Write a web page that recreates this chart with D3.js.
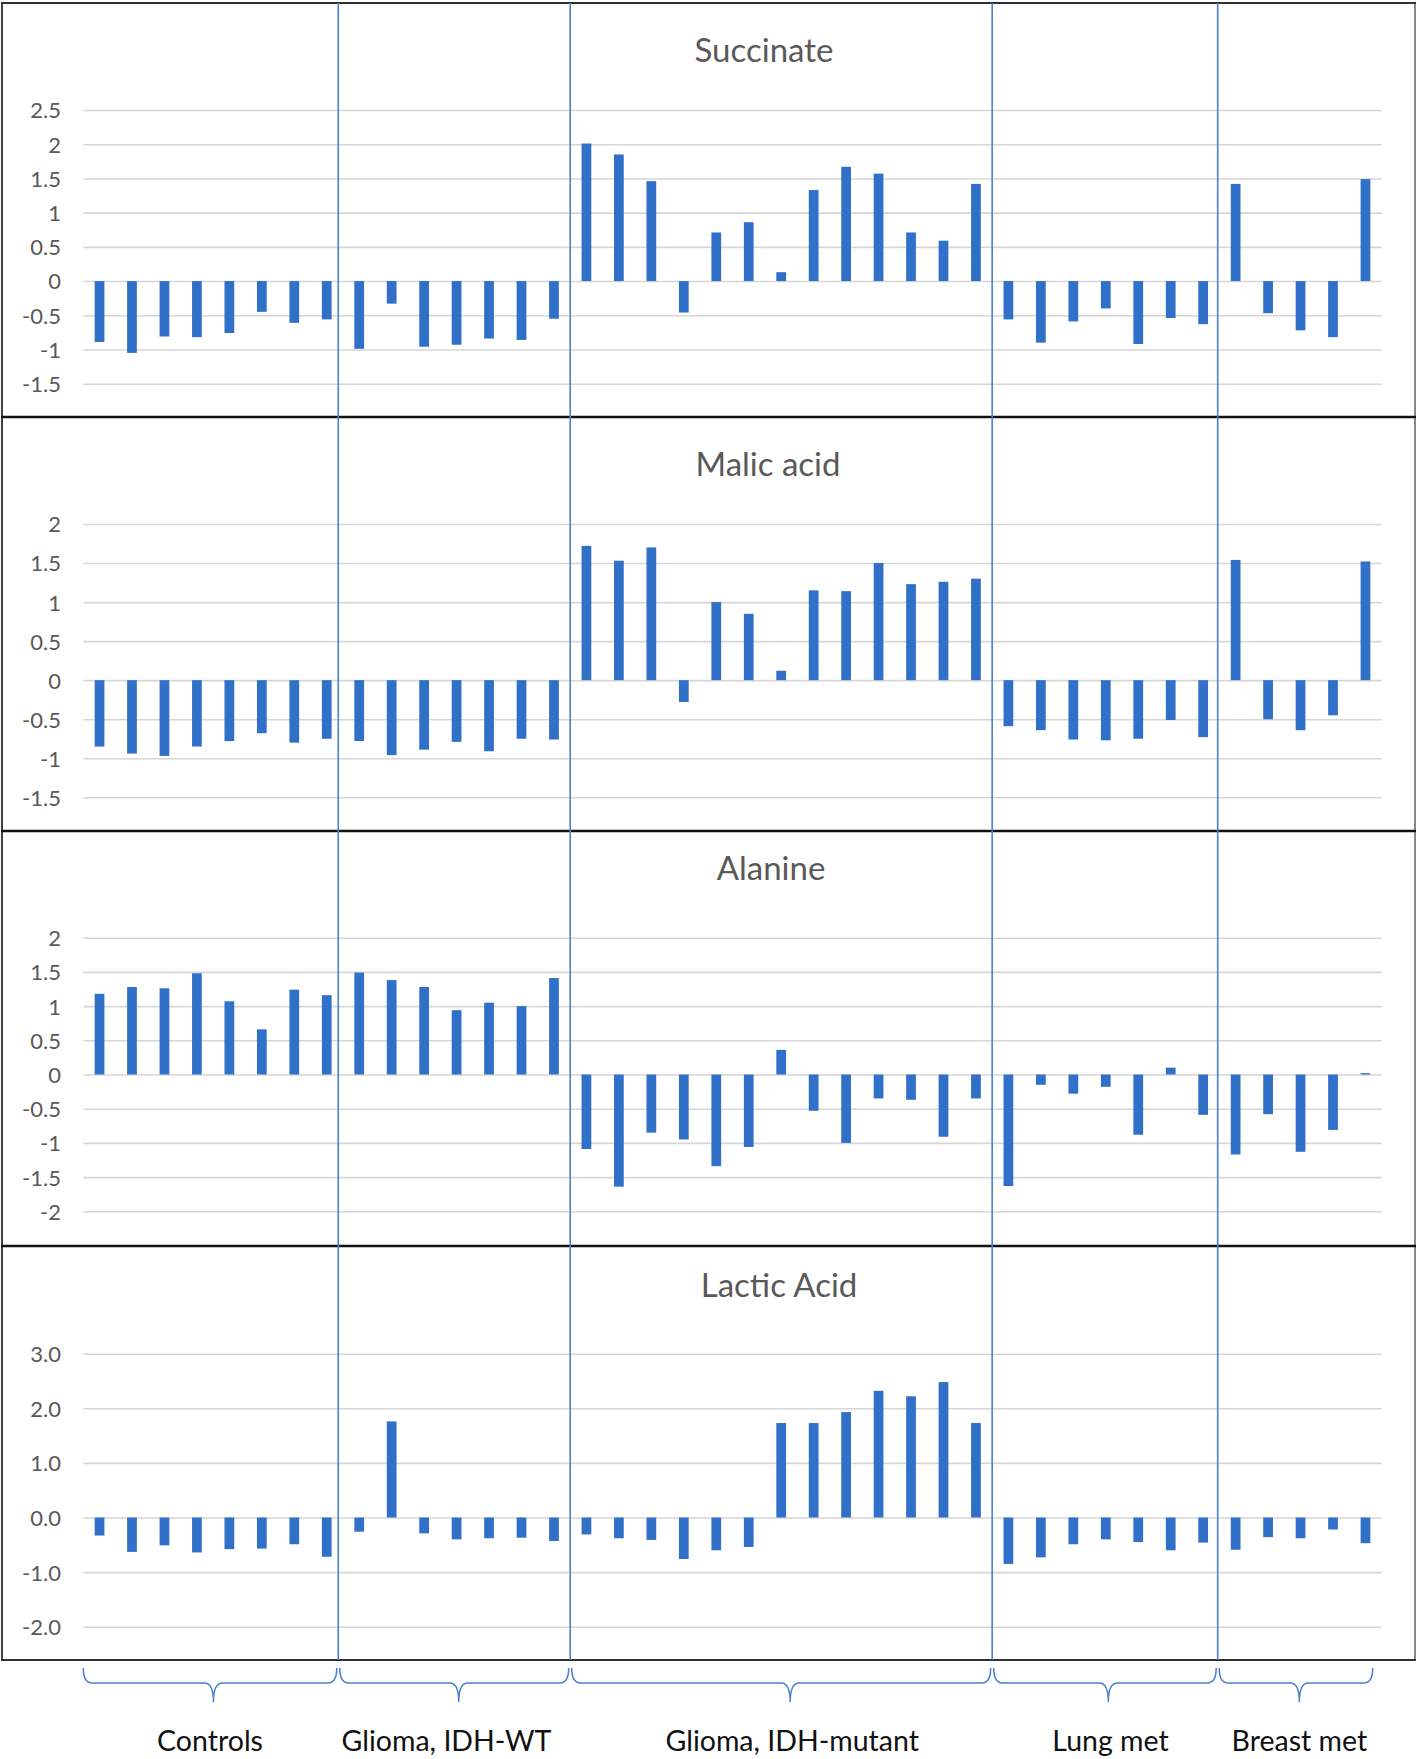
<!DOCTYPE html>
<html><head><meta charset="utf-8">
<script src="https://cdn.jsdelivr.net/npm/d3@7"></script>
<style>
html,body{margin:0;padding:0;background:#fff;}
svg{display:block;}
</style></head>
<body>
<svg id="chart" width="1418" height="1759"></svg>
<script>
// ---------- DATA ----------
const groups = ["Controls", "Glioma, IDH-WT", "Glioma, IDH-mutant", "Lung met", "Breast met"];
const groupSizes = [8, 7, 13, 7, 5];
const samples = d3.range(1, 41).map(i => "S" + i);

const metabolites = ["Succinate", "Malic acid", "Alanine", "Lactic Acid"];

const succinate = [-0.89, -1.05, -0.81, -0.82, -0.76, -0.45, -0.61, -0.56,
  -0.99, -0.33, -0.96, -0.93, -0.84, -0.86, -0.55,
  2.01, 1.85, 1.46, -0.46, 0.71, 0.86, 0.13, 1.33, 1.67, 1.57, 0.71, 0.59, 1.42,
  -0.56, -0.90, -0.59, -0.40, -0.92, -0.54, -0.63,
  1.42, -0.47, -0.72, -0.82, 1.49];
const malicAcid = [-0.85, -0.94, -0.97, -0.85, -0.78, -0.68, -0.80, -0.75,
  -0.78, -0.96, -0.89, -0.79, -0.91, -0.75, -0.76,
  1.72, 1.53, 1.70, -0.28, 1.00, 0.85, 0.12, 1.15, 1.14, 1.50, 1.23, 1.26, 1.30,
  -0.59, -0.64, -0.76, -0.77, -0.75, -0.51, -0.73,
  1.54, -0.50, -0.64, -0.45, 1.52];
const alanine = [1.18, 1.28, 1.26, 1.48, 1.07, 0.66, 1.24, 1.16,
  1.49, 1.38, 1.28, 0.94, 1.05, 1.00, 1.41,
  -1.09, -1.64, -0.85, -0.95, -1.34, -1.06, 0.36, -0.53, -1.00, -0.35, -0.37, -0.91, -0.35,
  -1.63, -0.15, -0.28, -0.18, -0.88, 0.10, -0.59,
  -1.17, -0.58, -1.13, -0.81, 0.02];
const lacticAcid = [-0.33, -0.63, -0.51, -0.64, -0.58, -0.57, -0.49, -0.72,
  -0.26, 1.76, -0.29, -0.40, -0.38, -0.37, -0.43,
  -0.31, -0.38, -0.41, -0.76, -0.60, -0.54, 1.73, 1.73, 1.93, 2.32, 2.22, 2.48, 1.73,
  -0.85, -0.73, -0.49, -0.40, -0.45, -0.60, -0.46,
  -0.59, -0.36, -0.38, -0.22, -0.47];

const succinateTicks = [-1.5, -1, -0.5, 0, 0.5, 1, 1.5, 2, 2.5];
const malicTicks = [-1.5, -1, -0.5, 0, 0.5, 1, 1.5, 2];
const alanineTicks = [-2, -1.5, -1, -0.5, 0, 0.5, 1, 1.5, 2];
const lacticTicks = [-2, -1, 0, 1, 2, 3];

// ---------- LAYOUT ----------
const svg = d3.select("#chart");
const BAR = "#3070c8";
const SEP = "#4a7fd2";
const GRID = "#d6d6d6";
const TXT = "#595959";
const FONT = "Lato, 'Open Sans', sans-serif";

const x = d3.scaleBand().domain(samples).range([83.3, 1381.7])
  .paddingInner(0.7).paddingOuter(0.35);

const panels = [
  {name: metabolites[0], values: succinate, ticks: succinateTicks, fmt: d3.format(""), top: 3, bottom: 417, yr: [383.7, 110], titleX: 764, titleY: 62},
  {name: metabolites[1], values: malicAcid, ticks: malicTicks, fmt: d3.format(""), top: 417, bottom: 831, yr: [797.3, 524], titleX: 768, titleY: 476},
  {name: metabolites[2], values: alanine, ticks: alanineTicks, fmt: d3.format(""), top: 831, bottom: 1246, yr: [1211.3, 937.7], titleX: 771, titleY: 880},
  {name: metabolites[3], values: lacticAcid, ticks: lacticTicks, fmt: d3.format(".1f"), top: 1246, bottom: 1660, yr: [1626.7, 1353.7], titleX: 779, titleY: 1297}
];

panels.forEach(p => {
  const y = d3.scaleLinear().domain(d3.extent(p.ticks)).range(p.yr);
  const g = svg.append("g");

  const axis = d3.axisLeft(y).tickValues(p.ticks).tickFormat(p.fmt)
    .tickSize(-(x.range()[1] - x.range()[0])).tickPadding(22);
  const ag = g.append("g").attr("transform", `translate(${x.range()[0]},0)`).call(axis);
  ag.select(".domain").remove();
  ag.selectAll(".tick line").attr("stroke", GRID).attr("stroke-width", 1.6);
  ag.selectAll(".tick text").attr("fill", TXT).attr("font-family", FONT)
    .attr("font-size", 22).attr("x", 61 - x.range()[0]).attr("dy", "0.36em")
    .text(d => p.fmt(d).replace("\u2212", "-"));

  g.selectAll("rect.bar").data(p.values).join("rect")
    .attr("class", "bar")
    .attr("x", (d, i) => x(samples[i]))
    .attr("width", x.bandwidth())
    .attr("y", d => y(Math.max(0, d)))
    .attr("height", d => Math.abs(y(d) - y(0)))
    .attr("fill", BAR);

  g.append("text").attr("x", p.titleX).attr("y", p.titleY)
    .attr("text-anchor", "middle").attr("font-family", FONT)
    .attr("font-size", 33).attr("fill", TXT).text(p.name);
});

// panel frame
const frameTop = panels[0].top, frameBottom = panels[3].bottom;
svg.append("line").attr("x1", 2).attr("x2", 2).attr("y1", frameTop).attr("y2", frameBottom)
  .attr("stroke", "#404040").attr("stroke-width", 2);
svg.append("line").attr("x1", 1415).attr("x2", 1415).attr("y1", frameTop).attr("y2", frameBottom)
  .attr("stroke", "#606060").attr("stroke-width", 1.5);
svg.append("line").attr("x1", 1).attr("x2", 1416).attr("y1", frameTop).attr("y2", frameTop)
  .attr("stroke", "#303030").attr("stroke-width", 2);
panels.slice(1).forEach(p => {
  svg.append("line").attr("x1", 1).attr("x2", 1416).attr("y1", p.top).attr("y2", p.top)
    .attr("stroke", "#111").attr("stroke-width", 2.6);
});
svg.append("line").attr("x1", 1).attr("x2", 1416).attr("y1", frameBottom).attr("y2", frameBottom)
  .attr("stroke", "#303030").attr("stroke-width", 2);

// group boundaries
const starts = [0];
groupSizes.forEach((n, i) => starts.push(starts[i] + n));
const stepW = x.step();
const boundary = k => k === 0 ? x.range()[0] : k === samples.length ? x.range()[1] - 7.5
  : x(samples[k]) - stepW * x.paddingInner() / 2;
const sepShift = [0, -4.7, 0, 0, -1.7, 0];
const bx = k => boundary(starts[k]) + sepShift[k];

d3.range(1, groups.length).forEach(k => {
  svg.append("line").attr("x1", bx(k)).attr("x2", bx(k))
    .attr("y1", frameTop).attr("y2", frameBottom)
    .attr("stroke", SEP).attr("stroke-width", 1.6);
});

// braces + labels
const tipShift = [3.4, 4.5, 9, 3.4, 3.4];
const labelShift = [0, -7.8, 11, 5.6, 3.4];
const yb0 = 1668, yb1 = 1683, yb2 = 1702, r = 9;
groups.forEach((name, k) => {
  const x0 = bx(k) + (k === 0 ? 0 : 1.5), x1 = bx(k + 1) - 1.5;
  const xc = (x0 + x1) / 2;
  const xm = xc + tipShift[k];
  const path = `M${x0},${yb0} Q${x0},${yb1} ${x0 + r},${yb1} L${xm - r},${yb1} Q${xm},${yb1} ${xm},${yb2} ` +
    `Q${xm},${yb1} ${xm + r},${yb1} L${x1 - r},${yb1} Q${x1},${yb1} ${x1},${yb0}`;
  svg.append("path").attr("d", path).attr("fill", "none")
    .attr("stroke", SEP).attr("stroke-width", 1.5);
  svg.append("text").attr("x", xc + labelShift[k]).attr("y", 1751).attr("text-anchor", "middle")
    .attr("font-family", FONT).attr("font-size", 28.5).attr("fill", "#111").text(name);
});
</script>
</body></html>
